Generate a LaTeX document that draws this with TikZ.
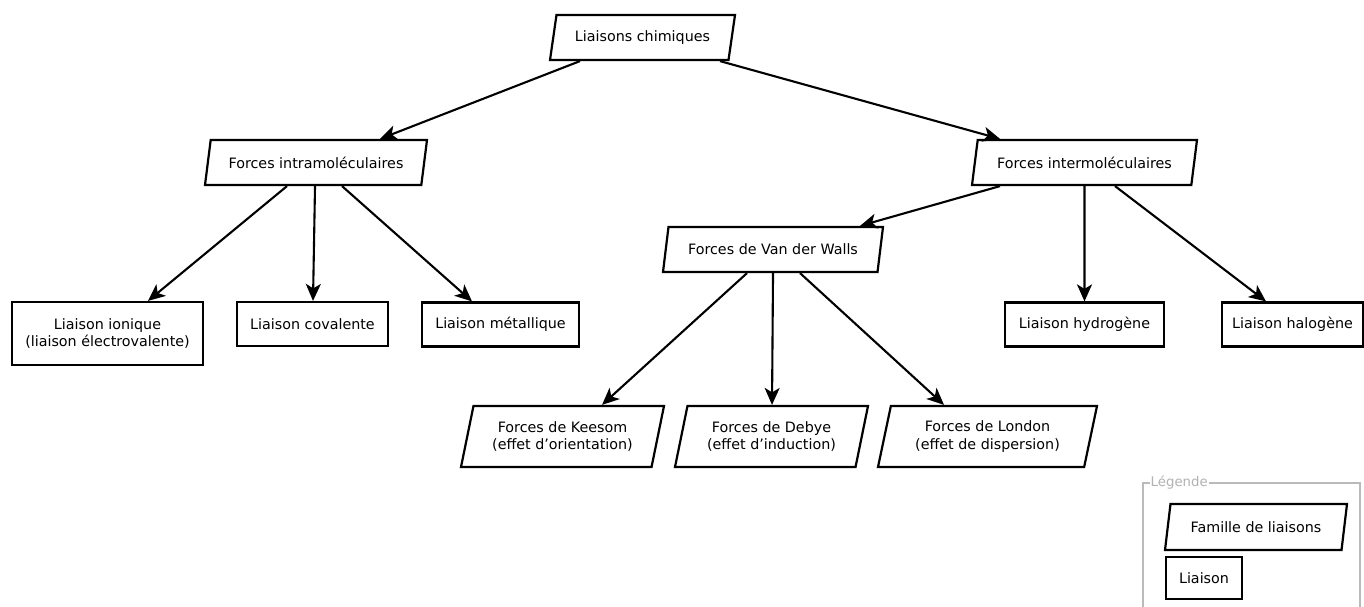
\documentclass[tikz,border=0pt]{standalone}
\usepackage{fontspec}
\setmainfont{DejaVu Sans}
\usetikzlibrary{shapes.geometric,arrows.meta}

\begin{document}
\begin{tikzpicture}
		[x=1pt,y=-1pt,
		Famille/.style={trapezium,trapezium left angle=70,trapezium right angle=110,trapezium stretches body,
			draw,line width=2.2pt,inner sep=2pt,minimum height=45pt,align=center,font=\fontsize{14.3}{17.5}\selectfont},
		Liaison/.style={rectangle,draw,line width=2.2pt,inner sep=2pt,minimum height=44pt,align=center,font=\fontsize{14.3}{17.5}\selectfont},
		Fleche/.style={-{Stealth[length=17pt,width=15pt,inset=4.5pt]},line width=2.1pt}]
		
		% cadre de l'image
		\useasboundingbox (0,0) rectangle (1364,607);
		
		% familles de liaisons
		\node[Famille,minimum width=185pt] (chimiques) at (642.5,37.5) {Liaisons chimiques};
		\node[Famille,minimum width=222pt] (intra) at (316,162.5) {Forces intramoléculaires};
		\node[Famille,minimum width=225pt] (inter) at (1084.5,162.5) {Forces intermoléculaires};
		\node[Famille,minimum width=220pt] (vdw) at (773,249.5) {Forces de Van der Walls};
		\node[Famille,minimum width=203pt,minimum height=61pt] (keesom) at (562.5,436.5) {Forces de Keesom\\(effet d’orientation)};
		\node[Famille,minimum width=193pt,minimum height=61pt] (debye) at (771.5,436.5) {Forces de Debye\\(effet d’induction)};
		\node[Famille,minimum width=219pt,minimum height=61pt] (london) at (987.5,436.5) {Forces de London\\(effet de dispersion)};
		
		% liaisons
		\node[Liaison,minimum width=191pt,minimum height=63pt] (ionique) at (107.5,333.5) {Liaison ionique\\(liaison électrovalente)};
		\node[Liaison,minimum width=151pt] (covalente) at (312.5,324) {Liaison covalente};
		\node[Liaison,minimum width=157pt] (metallique) at (500.5,324.5) {Liaison métallique};
		\node[Liaison,minimum width=159pt] (hydrogene) at (1084.5,324.5) {Liaison hydrogène};
		\node[Liaison,minimum width=141pt] (halogene) at (1292.5,324.5) {Liaison halogène};
		
		% fleches entre les noeuds (depart/arrivee/decalage depart/decalage arrivee)
		\foreach \a/\b/\sa/\sb in {chimiques/intra/-62.5/64, chimiques/inter/77.5/-84.5,
			intra/ionique/-29/40.5, intra/covalente/-1/0.5, intra/metallique/26/-28.5,
			inter/vdw/-84.5/87, inter/hydrogene/0/0, inter/halogene/30.5/-26.5,
			vdw/keesom/-26/39.5, vdw/debye/0/0.5, vdw/london/27/-43.5}
		\draw[Fleche]([xshift=\sa pt]\a.south)--([xshift=\sb pt]\b.north);
		
		% legende
		\draw[black!27,line width=2pt] (1143,483) rectangle (1360,640);
		\node[fill=white,text=black!30,inner sep=1pt,anchor=west,font=\fontsize{13.3}{15}\selectfont] (legende) at (1149.5,483) {Légende};
		\node[Famille,minimum width=182pt,minimum height=46pt] (famille) at (1256,527) {Famille de liaisons};
		\node[Liaison,minimum width=76pt,minimum height=42pt] (liaison) at (1204,578) {Liaison};
		
	\end{tikzpicture}
\end{document}
